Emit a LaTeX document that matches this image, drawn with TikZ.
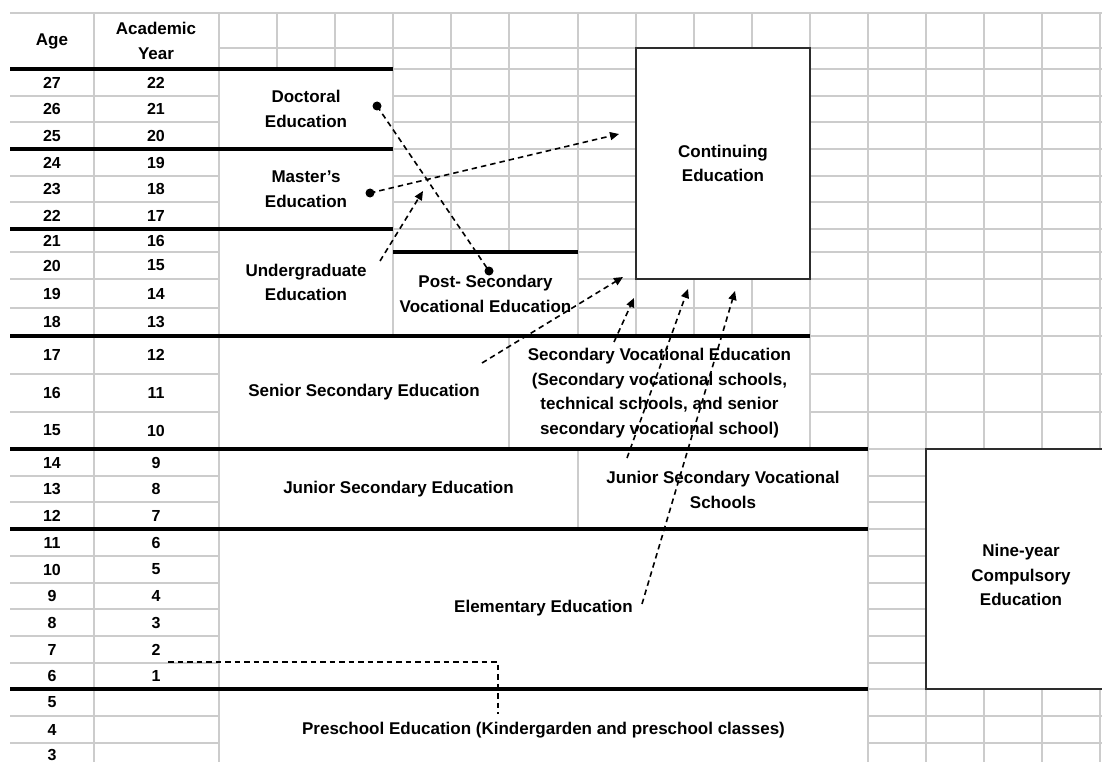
\documentclass[tikz,border=0pt]{standalone}
\usepackage{fontspec}
\setmainfont{Liberation Sans}
\usetikzlibrary{arrows.meta}
\definecolor{gridgray}{RGB}{204,204,204}
\definecolor{framegray}{RGB}{45,45,45}
\begin{document}
\begin{tikzpicture}[x=1pt,y=-1pt,
  gridline/.style={draw=gridgray, line width=1.3pt},
  thickline/.style={draw=black, line width=3.8pt},
  cover/.style={fill=white, draw=none},
  lbl/.style={font=\bfseries\fontsize{17}{24.5}\selectfont, align=center, inner sep=0pt, text=black},
  num/.style={font=\bfseries\fontsize{16}{20}\selectfont, inner sep=0pt, text=black},
  frame/.style={draw=framegray, line width=1.4pt, fill=white, inner sep=0pt},
  conn/.style={draw=black, line width=1.6pt, dash pattern=on 5.5pt off 4pt},
  arr/.style={conn, -{Triangle[length=9pt,width=8pt]}},
  dot/.style={fill=black},
]
\useasboundingbox (0,0) rectangle (1102,762);
\fill[white] (0,0) rectangle (1102,762);
\clip (0,0) rectangle (1102,762);

% ---- light grid ----
\foreach \x in {94,219,277,335,393,451,509,578,636,694,752,810,868,926,984,1042,1100}
  \draw[gridline] (\x,13) -- (\x,770);
\foreach \y in {13,48,69,96,122,149,176,202,229,252,279,308,336,374,412,449,476,502,529,556,583,609,636,663,689,716,743}
  \draw[gridline] (10,\y) -- (1102,\y);

% ---- merged cells ----
\foreach \xa/\ya/\xb/\yb in {8/12/93.35/68.35, 94.65/13.65/218.35/68.35,
   219.65/69.65/392.35/148.35, 219.65/149.65/392.35/228.35, 219.65/229.65/392.35/335.35,
   393.65/252.65/577.35/335.35,
   219.65/336.65/508.35/448.35, 509.65/336.65/809.35/448.35,
   219.65/449.65/577.35/528.35, 578.65/449.65/867.35/528.35,
   219.65/529.65/867.35/688.35, 219.65/689.65/867.35/775}
  \fill[cover] (\xa,\ya) rectangle (\xb,\yb);
\draw[gridline] (10,13) -- (1102,13);

% ---- thick separators ----
\draw[thickline] (10,69) -- (393,69);
\draw[thickline] (10,149) -- (393,149);
\draw[thickline] (10,229) -- (393,229);
\draw[thickline] (393,252) -- (578,252);
\draw[thickline] (10,336) -- (810,336);
\draw[thickline] (10,449) -- (868,449);
\draw[thickline] (10,529) -- (868,529);
\draw[thickline] (10,689) -- (868,689);

% ---- boxes ----
\node[frame, minimum width=174pt, minimum height=231pt, lbl] (cont) at (723,163.5) {Continuing\\Education};
\node[frame, minimum width=190pt, minimum height=240pt] (ninebox) at (1021,569) {};
\node[lbl] (ninetxt) at (1021,575) {Nine-year\\Compulsory\\Education};

% ---- header ----
\node[lbl] (agehead) at (52,41) {Age};
\node[lbl] (yearhead) at (156,41) {Academic\\Year};

% ---- numbers ----
\foreach \a/\yc in {27/82.5,26/109,25/135.5,24/162.5,23/189,22/215.5,21/240.5,20/265.5,19/293.5,18/322,
   17/355,16/393,15/430.5,14/462.5,13/489,12/515.5,11/542.5,10/569.5,9/596,8/622.5,7/649.5,6/676,
   5/702.5,4/729.5,3/755}{
  \node[num] (age\a) at (52,\yc) {\a};
  \ifnum\a>5
    \pgfmathtruncatemacro\yr{\a-5}
    \node[num] (yr\yr) at (156,\yc) {\yr};
  \fi
}

% ---- stage labels ----
\node[lbl] (doc) at (306,109) {Doctoral\\Education};
\node[lbl] (mas) at (306,189) {Master\char"0027 s\\Education};
\node[lbl] (ug) at (306,282.5) {Undergraduate\\Education};
\node[lbl] (ps) at (485.5,294) {Post- Secondary\\Vocational Education};
\node[lbl] (ss) at (364,392) {Senior Secondary Education};
\node[lbl] (sv) at (659.5,393) {Secondary Vocational Education\\(Secondary vocational schools,\\technical schools, and senior\\secondary vocational school)};
\node[lbl] (js) at (398.5,489) {Junior Secondary Education};
\node[lbl] (jsv) at (723,490) {Junior Secondary Vocational\\Schools};
\node[lbl] (el) at (543.5,608) {Elementary Education};
\node[lbl] (pre) at (543.5,730) {Preschool Education (Kindergarden and preschool classes)};

% ---- connector end points ----
\coordinate (docdot) at (377,106);
\coordinate (psdot) at (489,271);
\coordinate (masdot) at (370,193);
\coordinate (contA) at (619,134);
\coordinate (ugS) at (380,261);
\coordinate (ugE) at (423,191);
\coordinate (ssS) at (482,363);
\coordinate (contB) at (623,277);
\coordinate (svS) at (614,342);
\coordinate (contC) at (634,298);
\coordinate (jsvS) at (627,458);
\coordinate (contD) at (688,289);
\coordinate (elS) at (642,604);
\coordinate (contE) at (735,291);
\coordinate (preA) at (168,662);
\coordinate (preB) at (498,662);
\coordinate (preC) at (498,714);

% ---- connectors ----
\draw[conn] (docdot) -- (psdot);
\fill[dot] (docdot) circle (4.5pt);
\fill[dot] (psdot) circle (4.5pt);
\draw[arr] (masdot) -- (contA);
\fill[dot] (masdot) circle (4.5pt);
\draw[arr] (ugS) -- (ugE);
\draw[arr] (ssS) -- (contB);
\draw[arr] (svS) -- (contC);
\draw[arr] (jsvS) -- (contD);
\draw[arr] (elS) -- (contE);
\draw[conn, line width=1.2pt] (preA) -- (preB) -- (preC);
\end{tikzpicture}
\end{document}
